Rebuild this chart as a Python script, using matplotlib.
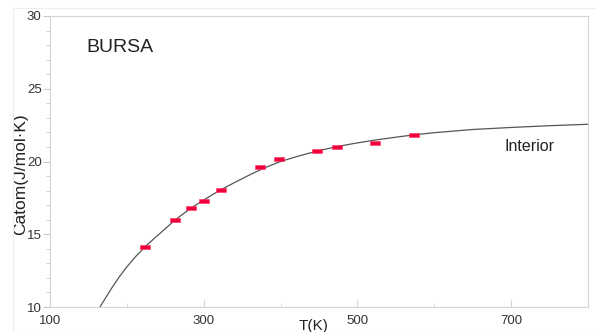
import matplotlib
matplotlib.use("Agg")
import matplotlib.pyplot as plt
from matplotlib.ticker import FixedLocator, MultipleLocator
from matplotlib.patches import Rectangle

plt.rcParams['font.family'] = ['Liberation Sans', 'DejaVu Sans']

# measured heat capacity points
T_obs = [223, 263, 283, 300, 323, 373, 398, 448, 473, 523, 573]
C_obs = [14.1, 16.0, 16.8, 17.3, 18.05, 19.6, 20.2, 20.7, 21.0, 21.3, 21.85]

# fitted curve
T_fit = [165, 180, 190, 200, 212, 225, 237, 250, 262, 275, 287, 300, 312, 325, 337,
         350, 362, 375, 387, 400, 425, 450, 475, 500, 525, 550, 575, 600, 650, 700, 750, 800]
C_fit = [10.0, 11.28, 12.06, 12.76, 13.5, 14.2, 14.78, 15.38, 15.95, 16.47, 16.92, 17.35,
         17.74, 18.13, 18.47, 18.82, 19.14, 19.46, 19.73, 20.0, 20.4, 20.75, 21.04, 21.28,
         21.49, 21.67, 21.84, 21.98, 22.2, 22.34, 22.46, 22.56]

xticks = [100, 300, 500, 700]

fig = plt.figure(figsize=(5.96, 3.32), dpi=100)
ax = fig.add_axes([50/596, 25/332, 538/596, 291/332])

# faint frame of the picture
fig.patches.append(Rectangle((13/596, 0), 1, 324/332, transform=fig.transFigure,
                             fill=False, edgecolor='#eeeeee', linewidth=0.8))

ax.plot(T_fit, C_fit, color='#555555', linewidth=0.9, zorder=2)

rect = [(-2, -1), (2, -1), (2, 1), (-2, 1), (-2, -1)]
ax.plot(T_obs, C_obs, linestyle='none', marker=rect, markersize=6.5,
        markerfacecolor='#f0003c', markeredgecolor='#ff3060', markeredgewidth=0.4, zorder=3)

ax.set_xlim(100, 800)
ax.set_ylim(10, 30)
ax.xaxis.set_major_locator(FixedLocator(xticks))
ax.xaxis.set_minor_locator(MultipleLocator(100))
ax.yaxis.set_major_locator(MultipleLocator(5))
ax.yaxis.set_minor_locator(MultipleLocator(1))

for s in ax.spines.values():
    s.set_color('#d4d4d4')
    s.set_linewidth(0.8)

ax.tick_params(axis='x', which='both', direction='in', colors='#d4d4d4',
               labelcolor='#333333', labelsize=9.5, pad=6)
ax.tick_params(axis='x', which='major', length=5)
ax.tick_params(axis='x', which='minor', length=3)
ax.tick_params(axis='y', which='both', direction='out', colors='#c8c8c8',
               labelcolor='#333333', labelsize=9.5, pad=1)
ax.tick_params(axis='y', which='major', length=5)
ax.tick_params(axis='y', which='minor', length=3)

ax.set_ylabel('Catom(J/mol·K)', fontsize=12.5, color='#222222')
ax.yaxis.set_label_coords(-0.041, 0.457)
ax.set_xlabel('T(K)', fontsize=11, color='#222222')
ax.xaxis.set_label_coords(0.489, -0.042)

ax.text(0.068, 0.876, 'BURSA', transform=ax.transAxes, fontsize=14, color='#222222')
ax.text(0.845, 0.536, 'Interior', transform=ax.transAxes, fontsize=11.5, color='#222222')

fig.savefig('out.png', dpi=100)
